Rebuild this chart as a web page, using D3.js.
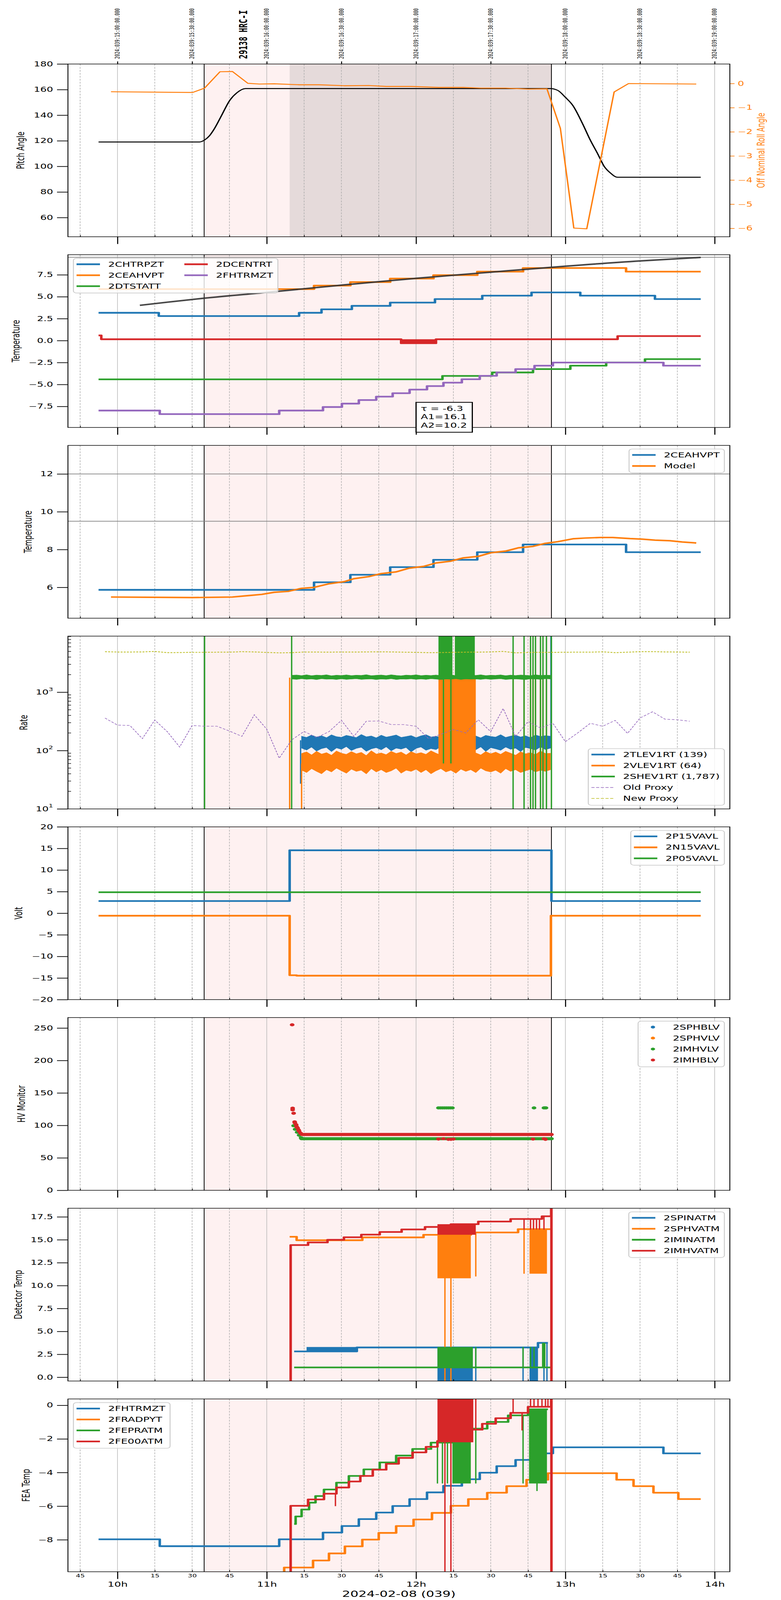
<!DOCTYPE html>
<html>
<head>
<meta charset="utf-8">
<script src="https://cdn.jsdelivr.net/npm/d3@7"></script>
<style>
  html, body { margin: 0; padding: 0; background: #fff; overflow: hidden; }
  svg { display: block; }
</style>
</head>
<body>
<script>
// ---------------- data ----------------
// times are local (EST) on 2024-02-08, "H:MM[:SS]"
const topTickTimes = ["10:00","10:30","11:00","11:30","12:00","12:30","13:00","13:30","14:00"];
const topTickLabels = ["2024:039:15:00:00.000","2024:039:15:30:00.000","2024:039:16:00:00.000",
  "2024:039:16:30:00.000","2024:039:17:00:00.000","2024:039:17:30:00.000","2024:039:18:00:00.000",
  "2024:039:18:30:00.000","2024:039:19:00:00.000"];
const obsTitle = "29138 HRC-I";
const shade = ["10:34:50", "12:54:24"];
const dwell = ["11:09:12", "12:54:24"];

// panel 1
const pitchTicks = [60, 80, 100, 120, 140, 160, 180];
const rollTicks = [-6, -5, -4, -3, -2, -1, 0];
const pitchAngle = [["9:52:24",119.05],["10:33:00",119.05],["10:35:00",120.6],["10:37:00",124],["10:39:00",129.6],
  ["10:42:00",140.4],["10:45:00",151.2],["10:48:00",157.5],["10:51:24",160.8],["12:54:00",160.8],["12:57:00",159.3],
  ["13:00:00",154],["13:03:00",147.6],["13:07:00",133],["13:10:00",120.6],["13:13:00",109.8],["13:15:36",100],
  ["13:18:00",95],["13:21:00",91.5],["13:54:24",91.5]];
const rollAngle = [["9:57:24",-0.34],["10:30:12",-0.37],["10:35:00",-0.19],["10:41:12",0.49],["10:46:12",0.50],
  ["10:52:24",0.01],["10:57:00",-0.02],["11:03:00",-0.01],["11:13:00",-0.05],["11:21:00",-0.05],["11:31:00",-0.09],
  ["11:41:00",-0.08],["11:48:00",-0.12],["11:58:00",-0.12],["12:09:00",-0.16],["12:19:00",-0.16],["12:26:00",-0.19],
  ["12:36:00",-0.19],["12:45:00",-0.23],["12:52:36",-0.22],["12:58:00",-1.86],["13:03:24",-5.99],["13:08:36",-6.02],
  ["13:19:36",-0.35],["13:25:24",0.00],["13:52:36",-0.02]];

// panel 2 / 3 / 8 temperatures (step series)
const tempTicks = [-7.5, -5, -2.5, 0, 2.5, 5, 7.5];
const chtrpzt = [["9:52:24",3.17],["10:16:36",2.80],["11:13:00",3.17],["11:22:00",3.57],["11:34:12",3.96],
  ["11:49:36",4.33],["12:07:36",4.73],["12:26:36",5.12],["12:46:24",5.49],["13:06:00",5.12],["13:36:00",4.73],["13:54:24",4.73]];
const ceahvpt = [["9:52:24",5.87],["11:19:00",6.27],["11:33:36",6.67],["11:49:36",7.07],["12:07:00",7.46],
  ["12:24:36",7.86],["12:43:00",8.27],["13:24:24",7.86],["13:54:24",7.86]];
const dtstatt = [["9:52:24",-4.41],["12:10:36",-4.02],["12:30:36",-3.63],["12:47:00",-3.25],["13:02:00",-2.86],
  ["13:16:24",-2.49],["13:32:00",-2.11],["13:54:24",-2.11]];
const dcentrt = [["9:52:24",0.59],["9:53:30",0.155],["11:54:00",-0.30],["12:08:00",0.155],["13:21:00",0.52],["13:54:24",0.52]];
const dcentrtNoise = [["11:54:00","12:08:00",-0.30,0.155]];
const fhtrmzt = [["9:52:24",-7.97],["10:17:00",-8.38],["11:05:00",-7.97],["11:22:36",-7.57],["11:30:12",-7.18],
  ["11:37:00",-6.77],["11:44:00",-6.38],["11:50:36",-5.99],["11:57:24",-5.58],["12:04:24",-5.18],["12:11:00",-4.79],
  ["12:18:24",-4.40],["12:25:36",-4.01],["12:32:24",-3.62],["12:40:00",-3.25],["12:47:36",-2.86],["12:55:00",-2.50],
  ["13:39:24",-2.86],["13:54:24",-2.86]];
const heaterTrend = [["10:09:00",4.02],["10:20:00",4.38],["10:35:00",4.84],["11:00:00",5.50],["11:30:00",6.32],
  ["12:00:00",7.10],["12:30:00",7.80],["13:00:00",8.48],["13:30:00",9.08],["13:54:24",9.48]];
const fitText = ["τ = -6.3", "A1=16.1", "A2=10.2"];

const hvTempTicks = [6, 8, 10, 12];
const ceahvptModel = [["9:57:24",5.49],["10:30:12",5.46],["10:46:12",5.49],["10:53:00",5.57],["10:58:00",5.63],
  ["11:03:00",5.74],["11:08:36",5.79],["11:14:00",5.95],["11:19:00",6.00],["11:25:00",6.19],["11:31:00",6.30],
  ["11:35:00",6.46],["11:41:00",6.57],["11:46:00",6.73],["11:52:00",6.82],["11:57:00",7.01],["12:03:00",7.11],
  ["12:08:00",7.29],["12:14:00",7.39],["12:19:00",7.56],["12:25:00",7.64],["12:30:00",7.83],["12:36:00",7.92],
  ["12:41:00",8.09],["12:47:00",8.17],["12:52:00",8.33],["12:57:00",8.42],["13:03:00",8.57],["13:08:00",8.61],
  ["13:14:00",8.64],["13:19:00",8.64],["13:26:00",8.58],["13:31:00",8.55],["13:36:00",8.50],["13:42:00",8.47],
  ["13:47:00",8.40],["13:52:36",8.35]];

// panel 4 rates
const rateTicks = [10, 100, 1000];
const bandTimes = ["11:14","11:16","11:18","11:20","11:22","11:24","11:26","11:28","11:30","11:32","11:34","11:36",
  "11:38","11:40","11:42","11:44","11:46","11:48","11:50","11:52","11:54","11:56","11:58","12:00","12:02","12:04",
  "12:06","12:08","12:10","12:12","12:14","12:16","12:18","12:20","12:22","12:24","12:26","12:28","12:30","12:32",
  "12:34","12:36","12:38","12:40","12:42","12:44","12:46","12:48","12:50","12:52","12:54"];
const tlevHi = [176,168,184,171,179,166,186,173,169,182,175,167,188,172,178,165,183,170,177,185,168,174,181,166,179,
  187,171,176,169,184,173,180,167,186,172,178,165,182,175,170,187,168,177,183,171,179,166,185,174,180,176];
const tlevLo = [110,102,115,98,108,113,96,111,105,117,100,109,114,97,107,112,103,116,99,110,106,113,95,109,115,101,
  108,104,117,98,111,106,114,100,109,103,116,97,112,107,101,115,105,110,96,113,108,102,116,104,110];
const vlevHi = [89,95,84,97,87,92,83,98,90,86,96,88,93,82,99,87,91,85,97,89,94,84,96,88,92,86,99,90,83,95,87,93,85,
  98,89,91,84,96,88,94,86,97,90,83,95,88,92,85,98,89,90];
const vlevLo = [46,42,49,44,40,47,43,50,45,41,48,44,46,40,49,43,47,42,45,50,41,46,44,48,42,47,40,45,49,43,46,41,48,
  44,47,42,50,45,43,46,41,49,44,47,42,45,48,43,46,44,47];
const shevTimes = ["11:10","11:12"].concat(bandTimes);
const shevHi = [1950,1975,1930,1990,1920,1965,1940,1985,1915,1955,1935,1980,1925,1960,1945,1995,1920,1950,1970,1930,
  1985,1940,1915,1965,1945,1990,1925,1955,1935,1975,1920,1960,1980,1930,1950,1915,1970,1940,1990,1925,1955,1945,
  1980,1920,1965,1935,1975,1950,1930,1985,1940,1960,1950];
const shevLo = [1680,1655,1700,1665,1690,1645,1705,1670,1685,1650,1695,1660,1680,1700,1655,1675,1690,1645,1685,1665,
  1700,1650,1680,1670,1695,1655,1690,1660,1705,1675,1645,1685,1665,1700,1650,1690,1670,1680,1655,1695,1660,1685,
  1700,1650,1675,1690,1665,1645,1695,1680,1660,1700,1685];
const tlevSpikes = [["11:13:36",27,150],["12:54:12",110,20000]];
const vlevBursts = [["12:09:00","12:24:00",60,1780]];
const vlevSpikes = [["11:09:12",1,1780],["11:14:00",1,60],["12:39:00",60,1780],["12:43:24",60,1780],["12:46:00",60,1780],
  ["12:47:00",60,1780],["12:48:00",60,1780],["12:50:00",60,1780],["12:51:00",60,1780],["12:52:24",60,1780]];
const shevBursts = [["12:09:00","12:14:36",1700,20000],["12:15:36","12:23:36",1700,20000]];
const shevSpikes = [["10:35:00",1,20000],["11:10:00",1,20000],["12:11:00",60,1700],["12:14:00",60,1700],
  ["12:39:00",1,20000],["12:43:24",1,20000],["12:46:00",1,20000],["12:47:00",1,20000],["12:48:00",1,20000],
  ["12:50:00",1,20000],["12:51:00",1,20000],["12:52:24",1,20000],["12:54:24",1,20000]];
const proxyTimes = ["9:55","10:00","10:05","10:10","10:15","10:20","10:25","10:30","10:35","10:40","10:45","10:50",
  "10:55","11:00","11:05","11:10","11:15","11:20","11:25","11:30","11:35","11:40","11:45","11:50","11:55","12:00",
  "12:05","12:10","12:15","12:20","12:25","12:30","12:35","12:40","12:45","12:50","12:55","13:00","13:05","13:10",
  "13:15","13:20","13:25","13:30","13:35","13:40","13:45","13:50"];
const oldProxy = [361,273,269,160,333,211,115,269,261,261,216,175,410,232,74,152,213,167,211,329,175,318,321,279,
  279,261,160,190,230,200,337,211,525,175,314,243,293,142,201,293,261,329,197,361,462,345,337,318];
const newProxy = [4950,4880,4880,4900,5000,4760,4780,4830,4830,4850,4850,4950,4900,4800,4720,4760,4880,4870,4860,
  4880,4870,4900,4920,4900,4850,4820,4760,4780,4820,4850,4860,4900,5000,4720,4800,4830,4820,4840,4860,4850,4920,
  4760,4850,4950,4960,4900,4880,4850];

// panel 5 volts
const voltTicks = [-20, -15, -10, -5, 0, 5, 10, 15, 20];
const p15vavl = [["9:52:24",2.83],["11:09:12",14.57],["12:54:24",2.83],["13:54:24",2.83]];
const n15vavl = [["9:52:24",-0.58],["11:09:12",-14.35],["11:12:00",-14.46],["12:54:12",-0.58],["13:54:24",-0.58]];
const p05vavl = [["9:52:24",4.86],["13:54:24",4.86]];

// panel 6 HV monitor (scatter)
const hvTicks = [0, 50, 100, 150, 200, 250];
const sphblv = [];
const sphvlv = [];
const imhvlvPts = [["11:10:48",99.5],["11:11:24",94],["11:12:12",89.5],["11:13:00",85],["11:13:48",81],
  ["12:09:00",127],["12:09:48",127],["12:10:36",127],["12:11:24",127],["12:12:12",127],["12:13:00",127],
  ["12:13:48",127],["12:14:36",127],["12:47:24",127],["12:51:24",127],["12:51:48",127],["12:52:12",127]];
const imhvlvRuns = [["11:14:00","12:54:24",79.5]];
const imhblvPts = [["11:10:12",255],["11:10:24",126.5],["11:10:24",124],["11:10:48",118.7],["11:11:12",105.5],
  ["11:11:18",104],["11:11:48",101],["11:12:00",98],["11:12:24",96],["11:12:48",93],["11:13:00",91],["11:13:36",88],
  ["12:09:00",79],["12:11:00",79.5],["12:13:00",78.5],["12:14:00",78.5],["12:15:00",79],["12:47:00",79],
  ["12:51:24",79.5],["12:52:00",78.5]];
const imhblvRuns = [["11:14:12","12:54:24",86]];

// panel 7 detector temps
const detTicks = [0, 2.5, 5, 7.5, 10, 12.5, 15, 17.5];
const spinatm = [["11:11:00",2.82],["11:36:12",3.25],["12:49:00",3.75],["12:53:00",3.75]];
const spinatmBursts = [["11:16:00","11:36:12",2.82,3.30],["12:08:36","12:22:48",-1,3.25],["12:45:36","12:49:00",-1,3.25]];
const spinatmSpikes = [["12:24:00",-1,3.25],["12:43:00",-1,3.25],["12:51:24",-1,3.75],["12:52:36",-1,3.75]];
const sphvatm = [["11:09:12",15.33],["11:12:00",14.95],["11:38:24",15.26],["12:03:00",15.54],["12:22:00",15.80],
  ["12:41:00",16.16],["12:54:00",16.16]];
const sphvatmBursts = [["12:08:36","12:22:00",10.8,15.55],["12:45:36","12:52:36",11.3,16.16]];
const sphvatmSpikes = [["12:11:36",-1,15.55],["12:14:00",-1,15.55],["12:24:00",11.0,15.80],["12:43:24",11.3,16.16]];
const iminatm = [["11:11:00",1.07],["12:54:00",1.07]];
const iminatmBursts = [["12:08:36","12:22:48",1.07,3.30],["12:50:36","12:52:00",1.07,3.75]];
const iminatmSpikes = [["12:24:00",1.07,3.30],["12:43:00",1.07,3.30],["12:46:00",1.07,3.30],["12:47:24",1.07,3.30]];
const imhvatm = [["11:09:30",-5],["11:09:36",14.42],["11:16:36",14.71],["11:24:24",15.00],["11:31:00",15.28],
  ["11:38:00",15.56],["11:45:24",15.85],["11:54:12",16.13],["12:03:36",16.40],["12:14:00",16.70],["12:25:00",16.99],
  ["12:38:00",17.27],["12:50:36",17.57],["12:54:18",30],["12:54:24",-5]];
const imhvatmBursts = [["12:08:36","12:24:00",15.55,16.70]];
const imhvatmSpikes = [["12:43:24",16.1,17.27],["12:46:00",16.1,17.27],["12:47:12",16.1,17.27],["12:48:24",16.1,17.27],
  ["12:49:36",16.1,17.27],["12:51:24",16.1,17.57]];

// panel 8 FEA temps
const feaTicks = [-8, -6, -4, -2, 0];
const fradpyt = [["11:06:54",-12],["11:07:00",-9.65],["11:18:36",-9.23],["11:25:00",-8.81],["11:31:24",-8.39],
  ["11:38:24",-7.99],["11:45:00",-7.59],["11:52:00",-7.18],["11:59:00",-6.79],["12:06:24",-6.40],["12:14:00",-5.98],
  ["12:21:00",-5.58],["12:28:36",-5.20],["12:36:24",-4.81],["12:44:24",-4.43],["12:53:00",-4.04],["13:20:36",-4.43],
  ["13:27:24",-4.81],["13:35:24",-5.20],["13:45:24",-5.58],["13:54:24",-5.58]];
const fepratm = [["11:11:00",-7.06],["11:11:36",-6.61],["11:14:00",-6.20],["11:17:00",-5.79],["11:19:36",-5.40],
  ["11:23:00",-5.01],["11:28:00",-4.60],["11:33:00",-4.20],["11:39:00",-3.81],["11:45:24",-3.40],["11:52:00",-2.99],
  ["11:58:36",-2.60],["12:06:00",-2.22],["12:15:24",-1.82],["12:22:00",-1.39],["12:28:36",-0.99],["12:37:00",-0.60],
  ["12:45:00",-0.24],["12:53:00",-0.24]];
const fepratmBursts = [["12:14:36","12:22:00",-4.65,-1.40],["12:45:24","12:52:36",-4.65,-0.24]];
const fepratmSpikes = [["12:08:36",-4.65,-2.22],["12:10:36",-4.65,-2.22],["12:12:36",-4.65,-2.22],["12:24:00",-4.65,-1.39],
  ["12:43:00",-4.65,-0.60],["12:48:36",-5.10,-0.24]];
const fe00atm = [["11:09:30",-12],["11:09:36",-5.98],["11:16:36",-5.60],["11:23:00",-5.26],["11:28:00",-4.89],
  ["11:33:00",-4.53],["11:37:36",-4.20],["11:42:36",-3.83],["11:48:00",-3.48],["11:53:00",-3.13],["11:58:36",-2.80],
  ["12:04:00",-2.47],["12:08:36",-2.12],["12:15:00",-1.80],["12:21:00",-1.45],["12:26:36",-1.10],["12:32:00",-0.77],
  ["12:38:00",-0.45],["12:45:00",-0.09],["12:54:18",3],["12:54:24",-12]];
const fe00atmBursts = [["12:08:36","12:23:00",-2.2,1]];
const fe00atmSpikes = [["11:27:36",-6.0,-5.26],["12:11:36",-12,-2.1],["12:14:00",-12,-2.1],["12:24:00",-1.45,1],
  ["12:39:00",-0.45,1],["12:42:36",-1.5,-0.45],["12:46:00",-0.09,1],["12:47:24",-0.09,1],["12:49:00",-0.09,1],
  ["12:50:36",-0.09,1],["12:52:00",-0.09,1],["12:53:00",-0.09,1]];

const yLabels = ["Pitch Angle","Temperature","Temperature","Rate","Volt","HV Monitor","Detector Temp","FEA Temp"];

// ---------------- layout ----------------
const C = { blue: "#1f77b4", orange: "#ff7f0e", green: "#2ca02c", red: "#d62728", purple: "#9467bd", olive: "#bcbd22" };
const FONT = "DejaVu Sans, sans-serif";
const W = 2000, H = 6200;
const X0 = 174, X1 = 1869, P0 = 248, PITCH = 739, PH = 669.5;
const ylabelX = [53.5, 41, 72.6, 61, 48.4, 54.8, 47.1, 67.5];

const T = s => { const p = s.split(":").map(Number); return new Date(2024, 1, 8, p[0], p[1], p[2] || 0); };
const x = d3.scaleTime().domain([T("9:40:06"), T("14:06:06")]).range([X0, X1]);
const xt = s => x(T(s));

// the whole 2000x6200 figure is fitted into whatever viewport the page gets
const vw = window.innerWidth || W, vh = window.innerHeight || H;
const svg = d3.select("body").append("svg")
  .attr("width", vw).attr("height", vh)
  .attr("viewBox", `0 0 ${W} ${H}`).attr("preserveAspectRatio", "none")
  .attr("font-family", FONT);
const defs = svg.append("defs");

function drawLine(sel, data, y, color, w, curve = d3.curveStepAfter) {
  return sel.append("path").datum(data)
    .attr("fill", "none").attr("stroke", color).attr("stroke-width", w)
    .attr("stroke-linejoin", "round")
    .attr("d", d3.line().x(d => xt(d[0])).y(d => y(d[1])).curve(curve));
}
function drawBursts(sel, bursts, y, color) {
  sel.append("g").selectAll("rect").data(bursts).join("rect")
    .attr("x", d => xt(d[0])).attr("width", d => xt(d[1]) - xt(d[0]))
    .attr("y", d => y(d[3])).attr("height", d => y(d[2]) - y(d[3]))
    .attr("fill", color);
}
function drawSpikes(sel, spikes, y, color, w = 3.5) {
  sel.append("g").selectAll("line").data(spikes).join("line")
    .attr("x1", d => xt(d[0])).attr("x2", d => xt(d[0]))
    .attr("y1", d => y(d[1])).attr("y2", d => y(d[2]))
    .attr("stroke", color).attr("stroke-width", w);
}
function drawBand(sel, times, lo, hi, y, color) {
  sel.append("path").datum(hi)
    .attr("fill", color).attr("stroke", color).attr("stroke-width", 1.5)
    .attr("d", d3.area().x((d, i) => xt(times[i])).y0((d, i) => y(lo[i])).y1(d => y(d)));
}

function legend(g, items, o) {
  const fs = 27, rowH = 42.5, hw = 60, gap = 21, colGap = 52, padL = 8, padR = 12;
  const cols = o.cols || 1, perCol = Math.ceil(items.length / cols);
  const lg = g.append("g").attr("class", "legend");
  const bg = lg.append("rect");
  let cx = padL;
  for (let c = 0; c < cols; c++) {
    const sub = items.slice(c * perCol, (c + 1) * perCol);
    let maxW = 0;
    sub.forEach((it, r) => {
      const cy = 23 + r * rowH;
      if (it.marker) {
        lg.append("circle").attr("cx", cx + hw / 2).attr("cy", cy).attr("r", 5.5).attr("fill", it.color);
      } else {
        lg.append("line").attr("x1", cx).attr("x2", cx + hw).attr("y1", cy).attr("y2", cy)
          .attr("stroke", it.color).attr("stroke-width", it.width || 6.5)
          .attr("stroke-dasharray", it.dash || null);
      }
      const t = lg.append("text").attr("x", cx + hw + gap).attr("y", cy)
        .attr("dominant-baseline", "central").attr("font-size", fs).text(it.label);
      maxW = Math.max(maxW, t.node().getComputedTextLength());
    });
    cx += hw + gap + maxW + (c < cols - 1 ? colGap : padR);
  }
  const w = cx, h = perCol * rowH + 7;
  bg.attr("width", w).attr("height", h).attr("rx", 8)
    .attr("fill", "#fff").attr("fill-opacity", 0.8)
    .attr("stroke", "#cccccc").attr("stroke-width", 2.5);
  const lx = o.right ? X1 - 14 - w : X0 + 14;
  const ly = o.bottom ? o.pb - 14 - h : o.pt + 14;
  lg.attr("transform", `translate(${lx},${ly})`);
}

function leftAxis(g, y, ticks, fmt) {
  const ax = g.append("g").attr("transform", `translate(${X0},0)`)
    .call(d3.axisLeft(y).tickValues(ticks).tickFormat(fmt).tickSize(28).tickPadding(10));
  ax.attr("font-size", 26).attr("font-family", FONT);
  ax.select(".domain").remove();
  ax.selectAll(".tick line").attr("stroke-width", 2.7);
  return ax;
}

const quarterTicks = x.ticks(d3.timeMinute.every(15));
const hourTicks = quarterTicks.filter(d => d.getMinutes() === 0);
const minorTicks = quarterTicks.filter(d => d.getMinutes() !== 0);

const panels = [];
for (let i = 0; i < 8; i++) {
  const pt = P0 + PITCH * i, pb = pt + PH;
  const g = svg.append("g");
  defs.append("clipPath").attr("id", "clip" + i)
    .append("rect").attr("x", X0).attr("y", pt).attr("width", X1 - X0).attr("height", PH);
  const plot = g.append("g").attr("clip-path", `url(#clip${i})`);
  plot.append("rect").attr("x", xt(shade[0])).attr("width", xt(shade[1]) - xt(shade[0]))
    .attr("y", pt).attr("height", PH).attr("fill", "#fef1f1");
  if (i === 0) {
    plot.append("rect").attr("x", xt(dwell[0])).attr("width", xt(dwell[1]) - xt(dwell[0]))
      .attr("y", pt).attr("height", PH).attr("fill", "#808080").attr("fill-opacity", 0.2);
  }
  plot.append("g").selectAll("line").data(quarterTicks).join("line")
    .attr("x1", d => x(d)).attr("x2", d => x(d)).attr("y1", pt).attr("y2", pb)
    .attr("stroke", d => d.getMinutes() === 0 ? "#b8b8b8" : "#aaaaaa")
    .attr("stroke-width", 1.5)
    .attr("stroke-dasharray", d => d.getMinutes() === 0 ? null : "7,4.5");
  plot.append("g").selectAll("line").data(shade).join("line")
    .attr("x1", d => xt(d)).attr("x2", d => xt(d)).attr("y1", pt).attr("y2", pb)
    .attr("stroke", "#000").attr("stroke-width", 2);
  const over = svg.append("g"); // layer above frames for legends and notes
  panels.push({ g, plot, over, pt, pb });
}

// ---------------- panel 1 ----------------
{
  const { g, plot, pt, pb } = panels[0];
  const y = d3.scaleLinear().domain([45, 180]).range([pb, pt]);
  const yr = d3.scaleLinear().domain([-6.35, 0.81]).range([pb, pt]);
  drawLine(plot, pitchAngle, y, "#000", 3.6, d3.curveMonotoneX);
  drawLine(plot, rollAngle, yr, C.orange, 3.6, d3.curveLinear);
  leftAxis(g, y, pitchTicks, d3.format("d"));
  const ra = g.append("g").attr("transform", `translate(${X1},0)`)
    .call(d3.axisRight(yr).tickValues(rollTicks).tickFormat(d3.format("d")).tickSize(12).tickPadding(8));
  ra.attr("font-size", 26).attr("font-family", FONT);
  ra.select(".domain").remove();
  ra.selectAll(".tick line").attr("stroke", C.orange).attr("stroke-width", 2.5);
  ra.selectAll(".tick text").attr("fill", C.orange);
  g.append("text").attr("transform", `translate(1949,${(pt + pb) / 2}) rotate(-90)`)
    .attr("text-anchor", "middle").attr("dominant-baseline", "central")
    .attr("font-size", 26).attr("fill", C.orange).text("Off Nominal Roll Angle");
  const ta = g.append("g").attr("transform", `translate(0,${pt})`)
    .call(d3.axisTop(x).tickValues(topTickTimes.map(T)).tickSize(10).tickFormat(""));
  ta.select(".domain").remove();
  ta.selectAll(".tick line").attr("stroke-width", 2.5);
  g.append("g").selectAll("text").data(topTickTimes).join("text")
    .attr("transform", d => `translate(${xt(d)},228) rotate(-90)`)
    .attr("dominant-baseline", "central").attr("font-family", "DejaVu Sans Mono, monospace")
    .attr("font-size", 15.5).text((d, i) => topTickLabels[i]);
  g.append("text").attr("transform", `translate(624,228) rotate(-90)`)
    .attr("dominant-baseline", "central").attr("font-family", "DejaVu Sans Mono, monospace")
    .attr("font-weight", "bold").attr("font-size", 28.5).text(obsTitle);
}

// ---------------- panel 2 ----------------
{
  const { g, plot, over, pt, pb } = panels[1];
  const y = d3.scaleLinear().domain([-9.9, 9.79]).range([pb, pt]);
  plot.append("line").attr("x1", X0).attr("x2", X1).attr("y1", y(9.5)).attr("y2", y(9.5))
    .attr("stroke", "#808080").attr("stroke-width", 2.5);
  drawLine(plot, chtrpzt, y, C.blue, 6.5);
  drawLine(plot, ceahvpt, y, C.orange, 6.5);
  drawLine(plot, dtstatt, y, C.green, 6.5);
  drawBursts(plot, dcentrtNoise, y, C.red);
  drawLine(plot, dcentrt, y, C.red, 6.5);
  drawLine(plot, fhtrmzt, y, C.purple, 6.5);
  drawLine(plot, heaterTrend, y, "#333", 6, d3.curveMonotoneX).attr("stroke-opacity", 0.9);
  leftAxis(g, y, tempTicks, d3.format(".1f"));
  legend(over, [
    { label: "2CHTRPZT", color: C.blue }, { label: "2CEAHVPT", color: C.orange }, { label: "2DTSTATT", color: C.green },
    { label: "2DCENTRT", color: C.red }, { label: "2FHTRMZT", color: C.purple }
  ], { cols: 2, pt, pb });
  const bx = xt("12:00"), by = 1559;
  over.append("rect").attr("x", bx).attr("y", by).attr("width", 144).attr("height", 116)
    .attr("fill", "#fff").attr("stroke", "#000").attr("stroke-width", 3);
  over.append("g").selectAll("text").data(fitText).join("text")
    .attr("x", bx + 12).attr("y", (d, i) => by + 33 + i * 32.6)
    .attr("font-size", 27).text(d => d);
}

// ---------------- panel 3 ----------------
{
  const { g, plot, over, pt, pb } = panels[2];
  const y = d3.scaleLinear().domain([4.37, 13.51]).range([pb, pt]);
  plot.append("g").selectAll("line").data([12, 9.5]).join("line")
    .attr("x1", X0).attr("x2", X1).attr("y1", d => y(d)).attr("y2", d => y(d))
    .attr("stroke", "#808080").attr("stroke-width", 2.5);
  drawLine(plot, ceahvpt, y, C.blue, 6.5);
  drawLine(plot, ceahvptModel, y, C.orange, 6, d3.curveLinear);
  leftAxis(g, y, hvTempTicks, d3.format("d"));
  legend(over, [{ label: "2CEAHVPT", color: C.blue }, { label: "Model", color: C.orange }], { right: true, pt, pb });
}

// ---------------- panel 4 ----------------
{
  const { g, plot, over, pt, pb } = panels[3];
  const y = d3.scaleLog().domain([10, 9140]).range([pb, pt]);
  drawBand(plot, bandTimes, tlevLo, tlevHi, y, C.blue);
  drawSpikes(plot, tlevSpikes, y, C.blue);
  drawBand(plot, bandTimes, vlevLo, vlevHi, y, C.orange);
  drawBursts(plot, vlevBursts, y, C.orange);
  drawSpikes(plot, vlevSpikes, y, C.orange);
  drawBand(plot, shevTimes, shevLo, shevHi, y, C.green);
  drawBursts(plot, shevBursts, y, C.green);
  drawSpikes(plot, shevSpikes, y, C.green);
  plot.append("path").datum(oldProxy).attr("fill", "none").attr("stroke", C.purple).attr("stroke-width", 2)
    .attr("stroke-dasharray", "7,4")
    .attr("d", d3.line().x((d, i) => xt(proxyTimes[i])).y(d => y(d)));
  plot.append("path").datum(newProxy).attr("fill", "none").attr("stroke", C.olive).attr("stroke-width", 3)
    .attr("stroke-dasharray", "5,3")
    .attr("d", d3.line().x((d, i) => xt(proxyTimes[i])).y(d => y(d)));
  const ax = leftAxis(g, y, rateTicks, () => "");
  ax.selectAll(".tick text").remove();
  const lab = g.append("g").selectAll("text").data(rateTicks).join("text")
    .attr("x", X0 - 38).attr("y", d => y(d)).attr("text-anchor", "end")
    .attr("dominant-baseline", "central").attr("font-size", 26);
  lab.append("tspan").text("10");
  lab.append("tspan").attr("dy", -11).attr("font-size", 18).text(d => Math.round(Math.log10(d)));
  const minors = [];
  [10, 100, 1000].forEach(b => { for (let k = 2; k <= 9; k++) if (b * k <= 9140) minors.push(b * k); });
  g.append("g").selectAll("line").data(minors).join("line")
    .attr("x1", X0).attr("x2", X0 + 8).attr("y1", d => y(d)).attr("y2", d => y(d))
    .attr("stroke", "#000").attr("stroke-width", 2);
  legend(over, [
    { label: "2TLEV1RT (139)", color: C.blue }, { label: "2VLEV1RT (64)", color: C.orange },
    { label: "2SHEV1RT (1,787)", color: C.green },
    { label: "Old Proxy", color: C.purple, width: 2.5, dash: "8,4" },
    { label: "New Proxy", color: C.olive, width: 2.5, dash: "8,4" }
  ], { right: true, bottom: true, pt, pb });
}

// ---------------- panel 5 ----------------
{
  const { g, plot, over, pt, pb } = panels[4];
  const y = d3.scaleLinear().domain([-20, 20]).range([pb, pt]);
  drawLine(plot, p15vavl, y, C.blue, 6.5);
  drawLine(plot, n15vavl, y, C.orange, 6.5);
  drawLine(plot, p05vavl, y, C.green, 6.5);
  leftAxis(g, y, voltTicks, d3.format("d"));
  legend(over, [{ label: "2P15VAVL", color: C.blue }, { label: "2N15VAVL", color: C.orange },
    { label: "2P05VAVL", color: C.green }], { right: true, pt, pb });
}

// ---------------- panel 6 ----------------
{
  const { g, plot, over, pt, pb } = panels[5];
  const y = d3.scaleLinear().domain([0, 266.2]).range([pb, pt]);
  const scatter = (pts, runs, color) => {
    plot.append("g").selectAll("line").data(runs).join("line")
      .attr("x1", d => xt(d[0])).attr("x2", d => xt(d[1])).attr("y1", d => y(d[2])).attr("y2", d => y(d[2]))
      .attr("stroke", color).attr("stroke-width", 12).attr("stroke-linecap", "round");
    plot.append("g").selectAll("circle").data(pts).join("circle")
      .attr("cx", d => xt(d[0])).attr("cy", d => y(d[1])).attr("r", 6).attr("fill", color);
  };
  scatter(sphblv, [], C.blue);
  scatter(sphvlv, [], C.orange);
  scatter(imhvlvPts, imhvlvRuns, C.green);
  scatter(imhblvPts, imhblvRuns, C.red);
  leftAxis(g, y, hvTicks, d3.format("d"));
  legend(over, [{ label: "2SPHBLV", color: C.blue, marker: true }, { label: "2SPHVLV", color: C.orange, marker: true },
    { label: "2IMHVLV", color: C.green, marker: true }, { label: "2IMHBLV", color: C.red, marker: true }],
    { right: true, pt, pb });
}

// ---------------- panel 7 ----------------
{
  const { g, plot, over, pt, pb } = panels[6];
  const y = d3.scaleLinear().domain([-0.414, 18.44]).range([pb, pt]);
  drawBursts(plot, spinatmBursts, y, C.blue);
  drawSpikes(plot, spinatmSpikes, y, C.blue);
  drawLine(plot, spinatm, y, C.blue, 6.5);
  drawBursts(plot, sphvatmBursts, y, C.orange);
  drawSpikes(plot, sphvatmSpikes, y, C.orange);
  drawLine(plot, sphvatm, y, C.orange, 6.5);
  drawBursts(plot, iminatmBursts, y, C.green);
  drawSpikes(plot, iminatmSpikes, y, C.green);
  drawLine(plot, iminatm, y, C.green, 6.5);
  drawBursts(plot, imhvatmBursts, y, C.red);
  drawSpikes(plot, imhvatmSpikes, y, C.red);
  drawLine(plot, imhvatm, y, C.red, 6.5);
  leftAxis(g, y, detTicks, d3.format(".1f"));
  legend(over, [{ label: "2SPINATM", color: C.blue }, { label: "2SPHVATM", color: C.orange },
    { label: "2IMINATM", color: C.green }, { label: "2IMHVATM", color: C.red }], { right: true, pt, pb });
}

// ---------------- panel 8 ----------------
{
  const { g, plot, over, pt, pb } = panels[7];
  const y = d3.scaleLinear().domain([-9.90, 0.376]).range([pb, pt]);
  drawLine(plot, fhtrmzt, y, C.blue, 6.5);
  drawLine(plot, fradpyt, y, C.orange, 6.5);
  drawBursts(plot, fepratmBursts, y, C.green);
  drawSpikes(plot, fepratmSpikes, y, C.green);
  drawLine(plot, fepratm, y, C.green, 6.5);
  drawBursts(plot, fe00atmBursts, y, C.red);
  drawSpikes(plot, fe00atmSpikes, y, C.red);
  drawLine(plot, fe00atm, y, C.red, 6.5);
  leftAxis(g, y, feaTicks, d3.format("d"));
  legend(over, [{ label: "2FHTRMZT", color: C.blue }, { label: "2FRADPYT", color: C.orange },
    { label: "2FEPRATM", color: C.green }, { label: "2FE00ATM", color: C.red }], { pt, pb });
}

// ---------------- shared x axes, frames, y labels ----------------
panels.forEach((p, i) => {
  const last = i === panels.length - 1;
  const major = p.g.append("g").attr("transform", `translate(0,${p.pb})`)
    .call(d3.axisBottom(x).tickValues(hourTicks).tickSize(28).tickPadding(10.6)
      .tickFormat(d => d.getHours() + "h"));
  major.attr("font-size", 27).attr("font-family", FONT);
  major.select(".domain").remove();
  major.selectAll(".tick line").attr("stroke-width", 2.7);
  if (!last) major.selectAll(".tick text").remove();
  const minor = p.g.append("g").attr("transform", `translate(0,${p.pb})`)
    .call(d3.axisBottom(x).tickValues(minorTicks).tickSize(-7).tickPadding(9)
      .tickFormat(d3.timeFormat("%M")));
  minor.attr("font-size", 18).attr("font-family", FONT);
  minor.select(".domain").remove();
  minor.selectAll(".tick line").attr("stroke-width", 1.8);
  if (!last) minor.selectAll(".tick text").remove();
  p.g.append("rect").attr("x", X0).attr("y", p.pt).attr("width", X1 - X0).attr("height", PH)
    .attr("fill", "none").attr("stroke", "#000").attr("stroke-width", 2.2);
  p.g.append("text").attr("transform", `translate(${ylabelX[i]},${(p.pt + p.pb) / 2}) rotate(-90)`)
    .attr("text-anchor", "middle").attr("dominant-baseline", "central")
    .attr("font-size", 26).text(yLabels[i]);
});
panels.forEach(p => p.over.raise());

svg.append("text").attr("x", (X0 + X1) / 2).attr("y", 6177)
  .attr("text-anchor", "middle").attr("dominant-baseline", "central")
  .attr("font-size", 33).text("2024-02-08 (039)");
</script>
</body>
</html>
